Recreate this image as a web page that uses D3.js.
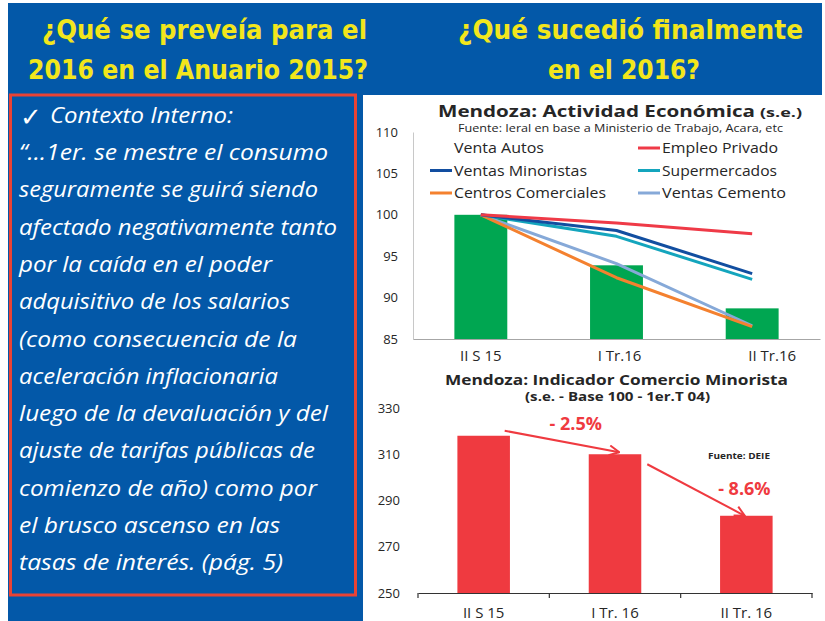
<!DOCTYPE html>
<html><head><meta charset="utf-8">
<script src="https://cdn.jsdelivr.net/npm/d3@7"></script>
<style>
html,body{margin:0;padding:0;background:#fff;}
svg{display:block;}
</style></head>
<body>
<svg id="c" width="825" height="621"></svg>
<script>
// ---------- DATA ----------
const headerLeft = ["¿Qué se preveía para el", "2016 en el Anuario 2015?"];
const headerRight = ["¿Qué sucedió finalmente", "en el 2016?"];
const contextLines = [
  "“…1er. se mestre el consumo",
  "seguramente se guirá siendo",
  "afectado negativamente tanto",
  "por la caída en el poder",
  "adquisitivo de los salarios",
  "(como consecuencia de la",
  "aceleración inflacionaria",
  "luego de la devaluación y del",
  "ajuste de tarifas públicas de",
  "comienzo de año) como por",
  "el brusco ascenso en las",
  "tasas de interés. (pág. 5)"
];
const contextWidths = [309, 299, 318, 253, 271, 278, 259, 309, 296, 298, 261, 264];

// Chart 1: Actividad Económica
const catsTop = ["II S 15", "I Tr.16", "II Tr.16"];
const ventaAutos = [100, 93.9, 88.7];
const empleoPrivado = [100, 99.0, 97.7];
const ventasMinoristas = [100, 98.1, 92.9];
const supermercados = [100, 97.4, 92.2];
const centrosComerciales = [100, 92.4, 86.5];
const ventasCemento = [100, 94.1, 86.6];
const ticksTop = [85, 90, 95, 100, 105, 110];

// Chart 2: Comercio Minorista
const catsBottom = ["II S 15", "I Tr. 16", "II Tr. 16"];
const comercioMinorista = [318, 310, 283.4];
const ticksBottom = [250, 270, 290, 310, 330];
const changeLabels = ["- 2.5%", "- 8.6%"];

// ---------- DRAW ----------
const svg = d3.select("#c");
const BLUE = "#0358a8", YELLOW = "#f2e61c";

// backgrounds
svg.append("rect").attr("x", 8).attr("y", 3).attr("width", 814).attr("height", 92).attr("fill", BLUE);
svg.append("rect").attr("x", 8).attr("y", 95).attr("width", 355).attr("height", 526).attr("fill", BLUE);
svg.append("rect").attr("x", 10.5).attr("y", 95).attr("width", 345).attr("height", 500)
  .attr("fill", "none").attr("stroke", "#ea4335").attr("stroke-width", 3);

// headers
const hFont = "'Liberation Sans Narrow','DejaVu Sans Condensed','Arial Narrow',sans-serif";
const hdr = [
  {t: headerLeft[0], x: 42, y: 39, w: 325},
  {t: headerLeft[1], x: 28, y: 79, w: 340},
  {t: headerRight[0], x: 458, y: 39, w: 345},
  {t: headerRight[1], x: 548, y: 79, w: 152}
];
svg.selectAll("text.hdr").data(hdr).join("text").attr("class", "hdr")
  .attr("x", d => d.x).attr("y", d => d.y).text(d => d.t)
  .attr("textLength", d => d.w).attr("lengthAdjust", "spacingAndGlyphs")
  .attr("fill", YELLOW).attr("font-family", hFont).attr("font-weight", "bold").attr("font-size", 27)
  .attr("font-stretch", "condensed");

// context text
const cFont = "'Open Sans','Noto Sans',sans-serif";
svg.append("text").attr("x", 20).attr("y", 126).text("✓")
  .attr("fill", "#fff").attr("font-family", "'DejaVu Sans',sans-serif").attr("font-size", 26).attr("font-weight", "bold");
svg.append("text").attr("x", 50).attr("y", 123).text("Contexto Interno:")
  .attr("textLength", 183).attr("lengthAdjust", "spacingAndGlyphs")
  .attr("fill", "#fff").attr("font-family", cFont).attr("font-style", "italic").attr("font-size", 21);
svg.selectAll("text.ctx").data(contextLines).join("text").attr("class", "ctx")
  .attr("x", 19).attr("y", (d, i) => 160 + i * 37.3).text(d => d)
  .attr("textLength", (d, i) => contextWidths[i]).attr("lengthAdjust", "spacingAndGlyphs")
  .attr("fill", "#fff").attr("font-family", cFont).attr("font-style", "italic").attr("font-size", 21);

// ---------- Chart 1 ----------
const tFont = "'Open Sans','DejaVu Sans',sans-serif";
const g1 = svg.append("g");
const x1 = d3.scaleBand().domain(catsTop).range([413, 820]).paddingInner(0.61).paddingOuter(0.305);
const y1 = d3.scaleLinear().domain([85, 110]).range([339, 132]);

g1.append("text").attr("x", 438).attr("y", 117).text("Mendoza: Actividad Económica")
  .attr("textLength", 317).attr("lengthAdjust", "spacingAndGlyphs")
  .attr("font-family", tFont).attr("font-weight", "bold").attr("font-size", 16).attr("fill", "#262626");
g1.append("text").attr("x", 760).attr("y", 117).text("(s.e.)")
  .attr("textLength", 42).attr("lengthAdjust", "spacingAndGlyphs")
  .attr("font-family", tFont).attr("font-weight", "bold").attr("font-size", 12.5).attr("fill", "#262626");
g1.append("text").attr("x", 458).attr("y", 131.5).text("Fuente: Ieral en base a Ministerio de Trabajo, Acara, etc")
  .attr("textLength", 325).attr("lengthAdjust", "spacingAndGlyphs")
  .attr("font-family", tFont).attr("font-size", 10).attr("fill", "#262626");

// y axis
const ay1 = g1.append("g").attr("transform", "translate(413,0)")
  .call(d3.axisLeft(y1).tickValues(ticksTop).tickSize(0).tickPadding(15));
ay1.select(".domain").attr("stroke", "#c8c8c8");
ay1.selectAll("text").attr("font-family", tFont).attr("font-size", 13).attr("fill", "#262626");
// x axis
const ax1 = g1.append("g").attr("transform", "translate(0,339)")
  .call(d3.axisBottom(x1).tickSize(0).tickPadding(11));
ax1.select(".domain").attr("stroke", "#a6a6a6");
ax1.selectAll("text").attr("font-family", tFont).attr("font-size", 15).attr("fill", "#262626")
  .attr("dx", (d, i) => i === 2 ? 20 : (i === 1 ? 3 : 0));

// bars
g1.selectAll("rect.bar").data(ventaAutos).join("rect").attr("class", "bar")
  .attr("x", (d, i) => x1(catsTop[i])).attr("width", x1.bandwidth())
  .attr("y", d => y1(d)).attr("height", d => 339 - y1(d)).attr("fill", "#00a651");

// lines
const series = [
  {name: "Ventas Cemento", v: ventasCemento, c: "#86a9d8"},
  {name: "Centros Comerciales", v: centrosComerciales, c: "#f4812f"},
  {name: "Supermercados", v: supermercados, c: "#14a5bd"},
  {name: "Ventas Minoristas", v: ventasMinoristas, c: "#124ea0"},
  {name: "Empleo Privado", v: empleoPrivado, c: "#ef3a47"}
];
const line = d3.line().x((d, i) => x1(catsTop[i]) + x1.bandwidth() / 2).y(d => y1(d));
g1.selectAll("path.ser").data(series).join("path").attr("class", "ser")
  .attr("d", d => line(d.v)).attr("fill", "none").attr("stroke", d => d.c)
  .attr("stroke-width", 3).attr("stroke-linejoin", "round");

// legend
const legend = [
  {name: "Venta Autos", c: null, col: 0, row: 0, w: 90},
  {name: "Empleo Privado", c: "#ef3a47", col: 1, row: 0, w: 116},
  {name: "Ventas Minoristas", c: "#124ea0", col: 0, row: 1, w: 133},
  {name: "Supermercados", c: "#14a5bd", col: 1, row: 1, w: 115},
  {name: "Centros Comerciales", c: "#f4812f", col: 0, row: 2, w: 152},
  {name: "Ventas Cemento", c: "#86a9d8", col: 1, row: 2, w: 124}
];
const lg = g1.selectAll("g.lg").data(legend).join("g").attr("class", "lg")
  .attr("transform", d => `translate(${d.col ? 638 : 430},${148 + d.row * 22.5})`);
lg.filter(d => d.c).append("line").attr("x1", 0).attr("x2", 22).attr("y1", 0).attr("y2", 0)
  .attr("stroke", d => d.c).attr("stroke-width", 3);
lg.append("text").attr("x", 24).attr("y", 5).text(d => d.name)
  .attr("textLength", d => d.w).attr("lengthAdjust", "spacingAndGlyphs")
  .attr("font-family", tFont).attr("font-size", 14.5).attr("fill", "#262626");

// ---------- Chart 2 ----------
const g2 = svg.append("g");
const x2 = d3.scaleBand().domain(catsBottom).range([418, 812]).paddingInner(0.6).paddingOuter(0.3);
const y2 = d3.scaleLinear().domain([250, 330]).range([593, 408]);

g2.append("text").attr("x", 445).attr("y", 385).text("Mendoza: Indicador Comercio Minorista")
  .attr("textLength", 343).attr("lengthAdjust", "spacingAndGlyphs")
  .attr("font-family", tFont).attr("font-weight", "bold").attr("font-size", 15).attr("fill", "#262626");
g2.append("text").attr("x", 525).attr("y", 401).text("(s.e. - Base 100 - 1er.T 04)")
  .attr("textLength", 185).attr("lengthAdjust", "spacingAndGlyphs")
  .attr("font-family", tFont).attr("font-weight", "bold").attr("font-size", 11.5).attr("fill", "#262626");
g2.append("text").attr("x", 708).attr("y", 459).text("Fuente: DEIE")
  .attr("textLength", 62).attr("lengthAdjust", "spacingAndGlyphs")
  .attr("font-family", tFont).attr("font-weight", "bold").attr("font-size", 8.5).attr("fill", "#262626");

const ay2 = g2.append("g").attr("transform", "translate(400,0)")
  .call(d3.axisLeft(y2).tickValues(ticksBottom).tickSize(0).tickPadding(0));
ay2.select(".domain").remove();
ay2.selectAll("text").attr("font-family", tFont).attr("font-size", 13).attr("fill", "#262626");

g2.selectAll("rect.bar").data(comercioMinorista).join("rect").attr("class", "bar")
  .attr("x", (d, i) => x2(catsBottom[i])).attr("width", x2.bandwidth())
  .attr("y", d => y2(d)).attr("height", d => 593 - y2(d)).attr("fill", "#ef3a40");

const ax2 = g2.append("g").attr("transform", "translate(0,593)")
  .call(d3.axisBottom(x2).tickSize(0).tickPadding(14));
ax2.select(".domain").attr("stroke", "#333").attr("stroke-width", 1.2);
ax2.selectAll("text").attr("font-family", tFont).attr("font-size", 15).attr("fill", "#262626");
// boundary ticks between categories
const bnd = [0, 1, 2, 3].map(i => x2.range()[0] + i * x2.step());
g2.selectAll("line.tk").data(bnd).join("line").attr("class", "tk")
  .attr("x1", d => d).attr("x2", d => d).attr("y1", 593).attr("y2", 598)
  .attr("stroke", "#333").attr("stroke-width", 1.2);

// arrows
svg.append("defs").append("marker").attr("id", "ah").attr("viewBox", "0 0 12 12")
  .attr("refX", 11).attr("refY", 6).attr("markerWidth", 12).attr("markerHeight", 12)
  .attr("markerUnits", "userSpaceOnUse").attr("orient", "auto")
  .append("path").attr("d", "M1,1 L11,6 L1,11").attr("fill", "none")
  .attr("stroke", "#ef3a40").attr("stroke-width", 2);
const bw = x2.bandwidth();
const arrows = [
  {x1: x2(catsBottom[0]) + bw * 0.9, y1: y2(comercioMinorista[0]) - 5,
   x2: x2(catsBottom[1]) + bw * 0.58, y2: y2(comercioMinorista[1]) - 2},
  {x1: x2(catsBottom[1]) + bw + 6, y1: y2(comercioMinorista[1]) + 10,
   x2: x2(catsBottom[2]) + bw * 0.47, y2: y2(comercioMinorista[2])}
];
g2.selectAll("line.arr").data(arrows).join("line").attr("class", "arr")
  .attr("x1", d => d.x1).attr("y1", d => d.y1).attr("x2", d => d.x2).attr("y2", d => d.y2)
  .attr("stroke", "#ef3a40").attr("stroke-width", 2).attr("marker-end", "url(#ah)");
const lbls = [
  {t: changeLabels[0], x: x2(catsBottom[1]) - 13, y: 430},
  {t: changeLabels[1], x: x2(catsBottom[2]) + bw / 2 - 2, y: 495}
];
g2.selectAll("text.chg").data(lbls).join("text").attr("class", "chg")
  .attr("x", d => d.x).attr("y", d => d.y).text(d => d.t).attr("text-anchor", "middle")
  .attr("font-family", tFont).attr("font-weight", "bold").attr("font-size", 18).attr("fill", "#ef3a40");
</script>
</body></html>
